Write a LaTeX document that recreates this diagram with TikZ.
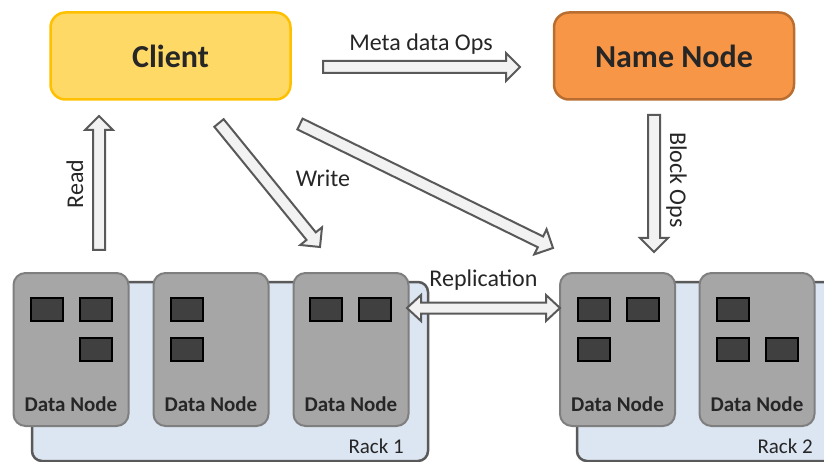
\documentclass[tikz,border=0pt]{standalone}
\usepackage{fontspec}
\setmainfont{Carlito}
\usetikzlibrary{calc}

\definecolor{clientfill}{HTML}{FFD966}
\definecolor{clientline}{HTML}{FFC000}
\definecolor{namefill}{HTML}{F79646}
\definecolor{nameline}{HTML}{B96D30}
\definecolor{dnfill}{HTML}{A6A6A6}
\definecolor{dnline}{HTML}{7F7F7F}
\definecolor{blkfill}{HTML}{404040}
\definecolor{rackfill}{HTML}{DCE6F2}
\definecolor{rackline}{HTML}{595959}
\definecolor{arrfill}{HTML}{F2F2F2}
\definecolor{arrline}{HTML}{595959}
\definecolor{ink}{HTML}{262626}

% shaft half-width, head half-width, head length of the outlined arrows
\newcommand{\shw}{6pt}
\newcommand{\hhw}{14pt}
\newcommand{\hln}{14pt}

% outlined single-headed arrow from #1 (tail) to #2 (tip)
\newcommand{\hdfsarrow}[2]{%
  \draw[fatarrow]
    ($(#1)!\shw!90:(#2)$)
    -- ($(#2)!\hln!(#1)!\shw!-90:(#1)$)
    -- ($(#2)!\hln!(#1)!\hhw!-90:(#1)$)
    -- (#2)
    -- ($(#2)!\hln!(#1)!\hhw!90:(#1)$)
    -- ($(#2)!\hln!(#1)!\shw!90:(#1)$)
    -- ($(#1)!\shw!-90:(#2)$)
    -- cycle;}

% outlined double-headed arrow between tips #1 and #2
\newcommand{\hdfsdoublearrow}[2]{%
  \draw[fatarrow]
    (#1)
    -- ($(#1)!\hln!(#2)!13pt!90:(#2)$)
    -- ($(#1)!\hln!(#2)!5.5pt!90:(#2)$)
    -- ($(#2)!\hln!(#1)!5.5pt!-90:(#1)$)
    -- ($(#2)!\hln!(#1)!13pt!-90:(#1)$)
    -- (#2)
    -- ($(#2)!\hln!(#1)!13pt!90:(#1)$)
    -- ($(#2)!\hln!(#1)!5.5pt!90:(#1)$)
    -- ($(#1)!\hln!(#2)!5.5pt!-90:(#2)$)
    -- ($(#1)!\hln!(#2)!13pt!-90:(#2)$)
    -- cycle;}

\begin{document}
\begin{tikzpicture}[
  x=1pt, y=-1pt,
  fatarrow/.style={draw=arrline, fill=arrfill, line width=2pt, line join=miter},
  mainbox/.style={rounded corners=15pt, line width=2.5pt, minimum width=240pt,
    minimum height=87pt, inner sep=0pt, text=ink,
    font=\fontsize{32}{38}\selectfont\bfseries},
  datanode/.style={draw=dnline, fill=dnfill, rounded corners=12pt, line width=2pt,
    minimum width=115pt, minimum height=153pt, inner sep=0pt},
  blk/.style={draw=black, fill=blkfill, line width=2pt, minimum width=32pt,
    minimum height=23pt, inner sep=0pt},
  rack/.style={draw=rackline, fill=rackfill, line width=2.5pt, rounded corners=10pt},
  dnlabel/.style={anchor=base, text=ink, inner sep=0pt,
    font=\fontsize{21}{25}\selectfont\bfseries},
  lbl/.style={anchor=base, text=ink, inner sep=0pt, font=\fontsize{24}{29}\selectfont},
  racklbl/.style={anchor=base east, text=ink, inner sep=0pt, font=\fontsize{21}{25}\selectfont}
]
\useasboundingbox (0,0) rectangle (824,462);
\clip (0,0) rectangle (824,462);

% racks
\draw[rack] (32,282) rectangle (428,461);
\draw[rack] (577,282) rectangle (850,461);
\node[racklbl] (r1) at (404,453) {Rack 1};
\node[racklbl] (r2) at (813,453) {Rack 2};

% client and name node
\node[mainbox, draw=clientline, fill=clientfill] (client) at (170.5,56) {Client};
\node[mainbox, draw=nameline, fill=namefill] (name) at (674,56) {Name Node};

% data nodes
\node[datanode] (dn1) at (71,349.5) {};
\node[datanode] (dn2) at (211,349.5) {};
\node[datanode] (dn3) at (351,349.5) {};
\node[datanode] (dn4) at (617.5,349.5) {};
\node[datanode] (dn5) at (757,349.5) {};

\node[dnlabel] (l1) at (71,411) {Data Node};
\node[dnlabel] (l2) at (211,411) {Data Node};
\node[dnlabel] (l3) at (351,411) {Data Node};
\node[dnlabel] (l4) at (617.5,411) {Data Node};
\node[dnlabel] (l5) at (757,411) {Data Node};

% blocks stored on each data node
\node[blk] (b11) at (46.5,309.5) {};
\node[blk] (b12) at (95.5,309.5) {};
\node[blk] (b13) at (95.5,349.5) {};
\node[blk] (b21) at (186.5,309.5) {};
\node[blk] (b22) at (186.5,349.5) {};
\node[blk] (b31) at (326,309.5) {};
\node[blk] (b32) at (375,309.5) {};
\node[blk] (b41) at (593.5,309.5) {};
\node[blk] (b42) at (642.5,309.5) {};
\node[blk] (b43) at (593.5,349.5) {};
\node[blk] (b51) at (733,309.5) {};
\node[blk] (b52) at (733,349.5) {};
\node[blk] (b53) at (782,349.5) {};

% arrow end points
\coordinate (metaS) at (323,67);
\coordinate (metaE) at (520,67);
\coordinate (readS) at (99,250);
\coordinate (readE) at (99,116);
\coordinate (wrAS) at (219,123);
\coordinate (wrAE) at (320,247);
\coordinate (wrBS) at (300,124);
\coordinate (wrBE) at (553,248);
\coordinate (blkS) at (654,115);
\coordinate (blkE) at (654,252);
\coordinate (repL) at (407,308);
\coordinate (repR) at (560,308);

\hdfsarrow{metaS}{metaE}
\hdfsarrow{readS}{readE}
\hdfsarrow{wrAS}{wrAE}
\hdfsarrow{wrBS}{wrBE}
\hdfsarrow{blkS}{blkE}
\hdfsdoublearrow{repL}{repR}

% arrow labels
\node[lbl] (tmeta) at (421,51) {Meta data Ops};
\node[lbl] (twrite) at (323,187) {Write};
\node[lbl] (trep) at (483.5,286) {Replication};
\node[lbl, rotate=90] (tread) at (83,184) {Read};
\node[lbl, rotate=-90] (tblock) at (670,180) {Block Ops};
\end{tikzpicture}
\end{document}
